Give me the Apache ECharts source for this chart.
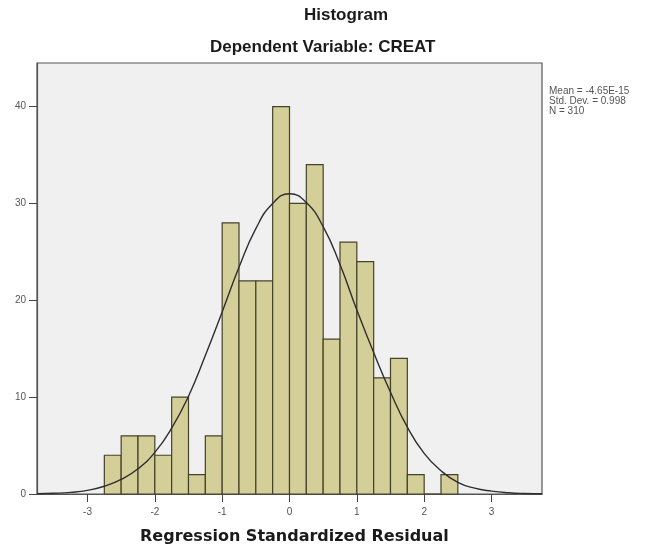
<!DOCTYPE html>
<html>
<head>
<meta charset="utf-8">
<script src="https://cdn.jsdelivr.net/npm/echarts@6/dist/echarts.min.js"></script>
<style>
  html, body { margin: 0; padding: 0; background: #ffffff; }
  #main { width: 654px; height: 551px; }
</style>
</head>
<body>
<div id="main"></div>
<script>
// histogram bins (width 0.25), left edges and counts
var binStarts = [-2.75, -2.5, -2.25, -2, -1.75, -1.5, -1.25, -1, -0.75, -0.5, -0.25,
                 0, 0.25, 0.5, 0.75, 1, 1.25, 1.5, 1.75, 2, 2.25];
var binCounts = [4, 6, 6, 4, 10, 2, 6, 28, 22, 22, 40,
                 30, 34, 16, 26, 24, 12, 14, 2, 0, 2];
var binWidth = 0.25;

// normal curve
var curveX = [-3.75, -3.5, -3.25, -3, -2.75, -2.5, -2.25, -2, -1.75, -1.5, -1.25, -1,
              -0.75, -0.5, -0.25, 0, 0.25, 0.5, 0.75, 1, 1.25, 1.5, 1.75, 2,
              2.25, 2.5, 2.75, 3, 3.25, 3.5, 3.75];
var curveY = [0.02, 0.07, 0.17, 0.38, 0.8, 1.5, 2.6, 4.3, 6.8, 10.1, 14.3, 18.8,
              23.4, 27.4, 30.0, 31.0, 30.1, 27.6, 23.7, 19.0, 14.6, 10.5, 6.9, 4.2,
              2.4, 1.2, 0.6, 0.3, 0.13, 0.05, 0.02];

var xTicks = [-3, -2, -1, 0, 1, 2, 3];
var yTicks = [0, 10, 20, 30, 40];
var statLines = ['Mean = -4.65E-15', 'Std. Dev. = 0.998', 'N = 310'];

var chart = echarts.init(document.getElementById('main'));

var barData = binStarts.map(function (s, i) {
    return [s, s + binWidth, binCounts[i]];
});
var lineData = curveX.map(function (x, i) {
    return [x, curveY[i]];
});

var option = {
    animation: false,
    backgroundColor: '#ffffff',
    textStyle: { fontFamily: 'Liberation Sans, Arial, sans-serif' },
    grid: {
        left: 37, right: 112, top: 63, bottom: 57,
        show: true,
        backgroundColor: '#f0f0f0',
        borderColor: '#555555',
        borderWidth: 1.2
    },
    graphic: [
        {
            type: 'text', left: 349 - 45, top: 7,
            style: { text: 'Histogram', font: 'bold 17px Liberation Sans, Arial', fill: '#1a1a1a' }
        },
        {
            type: 'text', left: 210, top: 39,
            style: { text: 'Dependent Variable: CREAT', font: 'bold 17px Liberation Sans, Arial', fill: '#1a1a1a' }
        },
        {
            type: 'text', left: 140, top: 529,
            style: { text: 'Regression Standardized Residual', font: 'bold 16px DejaVu Sans, Verdana', fill: '#1a1a1a' }
        },
        {
            type: 'text', left: 549, top: 86,
            style: { text: statLines.join('\n'), font: '10px Liberation Sans, Arial', fill: '#555555', lineHeight: 10 }
        }
    ],
    xAxis: {
        type: 'value',
        min: -3.75,
        max: 3.75,
        splitLine: { show: false },
        axisLine: { show: true, onZero: false, lineStyle: { color: '#555555', width: 1.2 } },
        axisTick: { show: true, length: 8, customValues: xTicks, lineStyle: { color: '#444444' } },
        axisLabel: { customValues: xTicks, color: '#555555', fontSize: 10, margin: 13 }
    },
    yAxis: {
        type: 'value',
        min: 0,
        max: 44.5,
        splitLine: { show: false },
        axisLine: { show: true, onZero: false, lineStyle: { color: '#555555', width: 1.2 } },
        axisTick: { show: true, length: 8, customValues: yTicks, lineStyle: { color: '#444444' } },
        axisLabel: { customValues: yTicks, color: '#555555', fontSize: 10, margin: 11 }
    },
    series: [
        {
            type: 'custom',
            data: barData,
            renderItem: function (params, api) {
                var p0 = api.coord([api.value(0), api.value(2)]);
                var p1 = api.coord([api.value(1), 0]);
                return {
                    type: 'rect',
                    shape: { x: p0[0], y: p0[1], width: p1[0] - p0[0], height: p1[1] - p0[1] },
                    style: { fill: '#d4cf98', stroke: '#45422a', lineWidth: 1.2 }
                };
            },
            z: 2
        },
        {
            type: 'line',
            data: lineData,
            smooth: true,
            showSymbol: false,
            lineStyle: { color: '#2e2e2e', width: 1.4 },
            z: 3
        }
    ]
};
chart.setOption(option);
</script>
</body>
</html>
